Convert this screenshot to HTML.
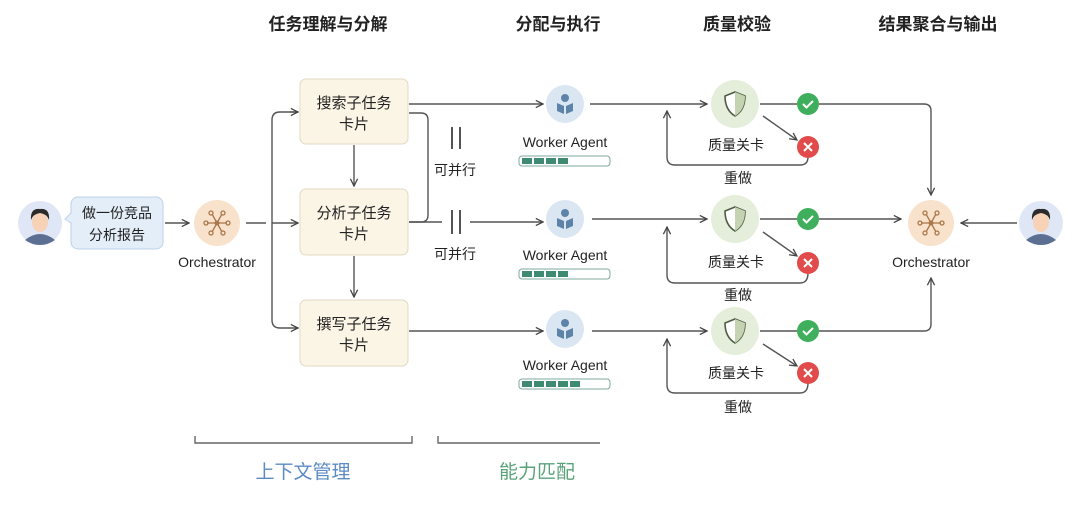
<!DOCTYPE html>
<html><head><meta charset="utf-8"><style>
html,body{margin:0;padding:0;background:#fff;}
svg{display:block;font-family:"Liberation Sans","Noto Sans CJK SC",sans-serif;}
</style></head><body>
<svg width="1080" height="505" viewBox="0 0 1080 505" xmlns="http://www.w3.org/2000/svg">
<defs>
<marker id="a" viewBox="0 0 10 10" refX="9" refY="5" markerWidth="9" markerHeight="9" orient="auto-start-reverse" markerUnits="userSpaceOnUse">
<path d="M1,1 L9,5 L1,9" fill="none" stroke="#444" stroke-width="1.4"/>
</marker>
<g id="user">
<circle r="22" fill="#dfe6f5"/>
<path d="M-15,17 Q0,5 15,17 Q8,22 0,22 Q-8,22 -15,17Z" fill="#5b6f92"/>
<ellipse cx="0" cy="-1" rx="8" ry="10" fill="#f7d2b6"/>
<path d="M-9,-3 Q-10,-15 0,-14 Q10,-15 9,-3 Q7,-9 0,-10 Q-7,-9 -9,-3Z" fill="#2b2b2b"/>
</g>
<g id="orch">
<circle r="23" fill="#f9e2cc"/>
<g stroke="#a9774a" stroke-width="1.3" fill="none">
<line x1="-10" y1="0" x2="10" y2="0"/><line x1="-5" y1="-9" x2="5" y2="9"/><line x1="5" y1="-9" x2="-5" y2="9"/>
<circle cx="-11" cy="0" r="2"/><circle cx="11" cy="0" r="2"/><circle cx="-6" cy="-10" r="2"/><circle cx="6" cy="-10" r="2"/><circle cx="-6" cy="10" r="2"/><circle cx="6" cy="10" r="2"/>
</g><circle r="2.5" fill="#a9774a"/>
</g>
<g id="worker">
<circle r="19" fill="#dbe6f3"/>
<circle cx="0" cy="-6" r="4" fill="#5d84a8"/>
<path d="M-8,-1 L-1,2 L-1,10 L-8,7Z M8,-1 L1,2 L1,10 L8,7Z" fill="#5d84a8"/>
</g>
<g id="shield">
<circle r="24" fill="#e4eedb"/>
<path d="M0,-12 L10,-8 Q10,6 0,12 Q-10,6 -10,-8Z" fill="#fff" stroke="#4e5b44" stroke-width="1.6"/>
<path d="M0,-12 L10,-8 Q10,6 0,12Z" fill="#c4d4b0"/>
</g>
<g id="ok"><circle r="11" fill="#3fae5d"/><path d="M-5,0 L-1.5,3.5 L5,-3" fill="none" stroke="#fff" stroke-width="2"/></g>
<g id="no"><circle r="11" fill="#e24b4b"/><path d="M-4,-4 L4,4 M4,-4 L-4,4" stroke="#fff" stroke-width="2"/></g>
</defs>

<g font-size="17" fill="#222" text-anchor="middle" font-weight="bold">
<text x="328" y="30">任务理解与分解</text>
<text x="558" y="30">分配与执行</text>
<text x="737" y="30">质量校验</text>
<text x="938" y="30">结果聚合与输出</text>
</g>

<g stroke="#555" stroke-width="1.4" fill="none">
<!-- left -->
<line x1="165" y1="223" x2="189" y2="223" marker-end="url(#a)"/>
<path d="M246,223 L266,223"/>
<path d="M298,112 L280,112 Q272,112 272,120 L272,320 Q272,328 280,328 L298,328" marker-end="url(#a)"/>
<line x1="272" y1="223" x2="298" y2="223" marker-end="url(#a)"/>
<path d="M290,112 L298,112" marker-end="url(#a)"/>
<line x1="354" y1="145" x2="354" y2="186" marker-end="url(#a)"/>
<line x1="354" y1="256" x2="354" y2="297" marker-end="url(#a)"/>
<!-- to workers -->
<line x1="409" y1="104" x2="543" y2="104" marker-end="url(#a)"/>
<path d="M409,113 L421,113 Q428,113 428,120 L428,215 Q428,222 421,222 L409,222"/>
<path d="M409,222 L442,222"/>
<line x1="470" y1="222" x2="543" y2="222" marker-end="url(#a)"/>
<line x1="409" y1="331" x2="543" y2="331" marker-end="url(#a)"/>
<!-- worker to shield -->
<line x1="590" y1="104" x2="707" y2="104" marker-end="url(#a)"/>
<line x1="592" y1="219" x2="707" y2="219" marker-end="url(#a)"/>
<line x1="592" y1="331" x2="707" y2="331" marker-end="url(#a)"/>
<!-- shield to check/x -->
<line x1="760" y1="104" x2="797" y2="104"/>
<line x1="760" y1="219" x2="797" y2="219"/>
<line x1="760" y1="331" x2="797" y2="331"/>
<line x1="763" y1="116" x2="797" y2="140" marker-end="url(#a)"/>
<line x1="763" y1="232" x2="797" y2="256" marker-end="url(#a)"/>
<line x1="763" y1="344" x2="797" y2="366" marker-end="url(#a)"/>
<!-- redo loops -->
<path d="M808,157 Q808,165 800,165 L675,165 Q667,165 667,157 L667,111" marker-end="url(#a)"/>
<path d="M808,273 Q808,283 800,283 L675,283 Q667,283 667,275 L667,227" marker-end="url(#a)"/>
<path d="M808,383 Q808,393 800,393 L675,393 Q667,393 667,385 L667,339" marker-end="url(#a)"/>
<!-- to right orchestrator -->
<path d="M819,104 L924,104 Q931,104 931,111 L931,195" marker-end="url(#a)"/>
<line x1="819" y1="219" x2="901" y2="219" marker-end="url(#a)"/>
<path d="M819,331 L924,331 Q931,331 931,324 L931,278" marker-end="url(#a)"/>
<line x1="1017" y1="223" x2="961" y2="223" marker-end="url(#a)"/>
<!-- bottom brackets -->
<path d="M195,436 L195,443 L412,443 L412,436" stroke="#666"/>
<path d="M438,436 L438,443 L600,443" stroke="#666"/>
</g>

<!-- parallel marks -->
<g stroke="#555" stroke-width="2">
<line x1="452" y1="127" x2="452" y2="149"/><line x1="460" y1="127" x2="460" y2="149"/>
<line x1="452" y1="210" x2="452" y2="234"/><line x1="460" y1="210" x2="460" y2="234"/>
</g>

<use href="#user" x="40" y="223"/>
<use href="#user" x="1041" y="223"/>
<rect x="71" y="197" width="92" height="52" rx="7" fill="#e4eef9" stroke="#bcd2ea"/>
<path d="M71,213 L65,219 L71,223" fill="#e4eef9" stroke="#bcd2ea"/>
<line x1="71.5" y1="214" x2="71.5" y2="222" stroke="#e4eef9" stroke-width="2"/>
<g font-size="14" fill="#222" text-anchor="middle">
<text x="117" y="218">做一份竞品</text>
<text x="117" y="240">分析报告</text>
</g>
<use href="#orch" x="217" y="223"/>
<use href="#orch" x="931" y="223"/>

<g fill="#fbf5e5" stroke="#e2d9c3">
<rect x="300" y="79" width="108" height="65" rx="6"/>
<rect x="300" y="189" width="108" height="66" rx="6"/>
<rect x="300" y="300" width="108" height="66" rx="6"/>
</g>
<g font-size="15" fill="#222" text-anchor="middle">
<text x="354" y="108">搜索子任务</text><text x="354" y="129">卡片</text>
<text x="354" y="218">分析子任务</text><text x="354" y="239">卡片</text>
<text x="354" y="329">撰写子任务</text><text x="354" y="350">卡片</text>
</g>

<use href="#worker" x="565" y="104"/>
<use href="#worker" x="565" y="219"/>
<use href="#worker" x="565" y="329"/>
<use href="#shield" x="735" y="104"/>
<use href="#shield" x="735" y="219"/>
<use href="#shield" x="735" y="331"/>
<use href="#ok" x="808" y="104"/><use href="#no" x="808" y="147"/>
<use href="#ok" x="808" y="219"/><use href="#no" x="808" y="263"/>
<use href="#ok" x="808" y="331"/><use href="#no" x="808" y="373"/>

<!-- progress bars -->
<g>
<rect x="519" y="156" width="91" height="10" rx="3" fill="#fff" stroke="#7fa89a"/>
<g fill="#3f8a72"><rect x="522" y="158" width="10" height="6"/><rect x="534" y="158" width="10" height="6"/><rect x="546" y="158" width="10" height="6"/><rect x="558" y="158" width="10" height="6"/></g>
<rect x="519" y="269" width="91" height="10" rx="3" fill="#fff" stroke="#7fa89a"/>
<g fill="#3f8a72"><rect x="522" y="271" width="10" height="6"/><rect x="534" y="271" width="10" height="6"/><rect x="546" y="271" width="10" height="6"/><rect x="558" y="271" width="10" height="6"/></g>
<rect x="519" y="379" width="91" height="10" rx="3" fill="#fff" stroke="#7fa89a"/>
<g fill="#3f8a72"><rect x="522" y="381" width="10" height="6"/><rect x="534" y="381" width="10" height="6"/><rect x="546" y="381" width="10" height="6"/><rect x="558" y="381" width="10" height="6"/><rect x="570" y="381" width="10" height="6"/></g>
</g>

<g font-size="14" fill="#222" text-anchor="middle">
<text x="217" y="267">Orchestrator</text>
<text x="931" y="267">Orchestrator</text>
<text x="565" y="147">Worker Agent</text>
<text x="565" y="260">Worker Agent</text>
<text x="565" y="370">Worker Agent</text>
<text x="455" y="175">可并行</text>
<text x="455" y="259">可并行</text>
<text x="736" y="150">质量关卡</text>
<text x="736" y="267">质量关卡</text>
<text x="736" y="378">质量关卡</text>
<text x="738" y="183">重做</text>
<text x="738" y="300">重做</text>
<text x="738" y="412">重做</text>
</g>
<g font-size="19" text-anchor="middle">
<text x="303" y="478" fill="#5b8ac5">上下文管理</text>
<text x="537" y="478" fill="#5aa37a">能力匹配</text>
</g>
</svg>
</body></html>
